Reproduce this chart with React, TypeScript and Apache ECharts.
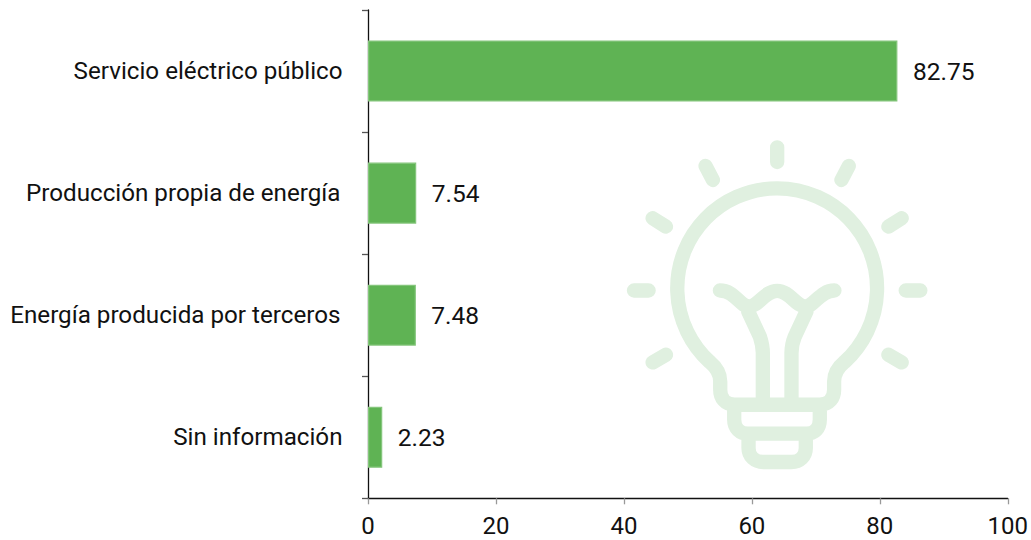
import React, { useEffect, useRef } from "react";
import * as echarts from "echarts";

const categories = ["Servicio eléctrico público", "Producción propia de energía", "Energía producida por terceros", "Sin información"];
const values = [82.75, 7.54, 7.48, 2.23];
const shiftedLabels = ["Producción propia de energía", "Energía producida por terceros"];
const FONT = "Roboto";
const bulbPath =
  "M502 52V96M287 108L309 150M717 108L695 150M128 265L168 290M876 265L836 290M72 482H116M888 482H932M128 698L168 675M876 698L836 675" +
  "M375 825C345 825 331 805 331 780V755C331 730 318 712 300 697A300 300 0 1 1 704 697C686 712 673 730 673 755V780C673 805 659 825 629 825H375" +
  "M373 825V870C373 895 390 912 415 912H590C615 912 630 895 630 870V825" +
  "M416 912V955C416 980 435 997 460 997H545C570 997 588 980 588 955V912" +
  "M330 482C375 482 390 530 418 530C445 530 465 483 502 483C539 483 559 530 586 530C614 530 630 482 674 482" +
  "M415 545L450 620C455 635 459 650 459 670V825M590 545L555 620C549 635 545 650 545 670V825";

echarts.graphic.registerShape("bulb", echarts.graphic.extendPath(bulbPath, {}) as any);

export default function App() {
  const ref = useRef<HTMLDivElement>(null);
  useEffect(() => {
    document.body.style.margin = "0";
    const chart = echarts.init(ref.current!, undefined, { renderer: "svg" });
    chart.setOption({
      animation: false,
      backgroundColor: "#fff",
      grid: { left: 368, right: 21.5, top: 10, bottom: 41.7, containLabel: false },
      xAxis: {
        type: "value",
        min: 0,
        max: 100,
        interval: 20,
        splitLine: { show: false },
        axisLine: { show: true, lineStyle: { color: "#111", width: 1.3 } },
        axisTick: { show: true, length: 6, lineStyle: { color: "#999", width: 1.3 } },
        axisLabel: { color: "#111", fontFamily: FONT, fontSize: 24, margin: 20, lineHeight: 16 },
      },
      yAxis: {
        type: "category",
        inverse: true,
        data: categories,
        axisLine: { show: true, lineStyle: { color: "#111", width: 1.3 } },
        axisTick: { show: true, length: 6, lineStyle: { color: "#555", width: 1.3 } },
        axisLabel: {
          color: "#111",
          fontFamily: FONT,
          fontSize: 24.2,
          margin: 25.5,
          formatter: (v: string) => (shiftedLabels.includes(v) ? `{s|${v}}` : v),
          rich: { s: { color: "#111", fontFamily: FONT, fontSize: 24.2, padding: [0, 2, 0, 0] } },
        },
      },
      series: [
        {
          type: "bar",
          data: values,
          barWidth: "50%",
          itemStyle: { color: "#5fb354", borderColor: "#84c57b", borderWidth: 1.2 },
          label: {
            show: true,
            position: "right",
            distance: 15.5,
            color: "#111",
            fontFamily: FONT,
            fontSize: 24.5,
            formatter: (p: any) => p.value.toFixed(2),
          },
        },
      ],
      graphic: [
        {
          type: "bulb",
          x: 610,
          y: 130,
          scaleX: 1 / 3,
          scaleY: 1 / 3,
          silent: true,
          style: { fill: "none", stroke: "#e0f0e0", lineWidth: 43, lineCap: "round", lineJoin: "round" },
        },
      ],
    });
    return () => chart.dispose();
  }, []);
  return <div ref={ref} style={{ width: 1031, height: 540 }} />;
}
